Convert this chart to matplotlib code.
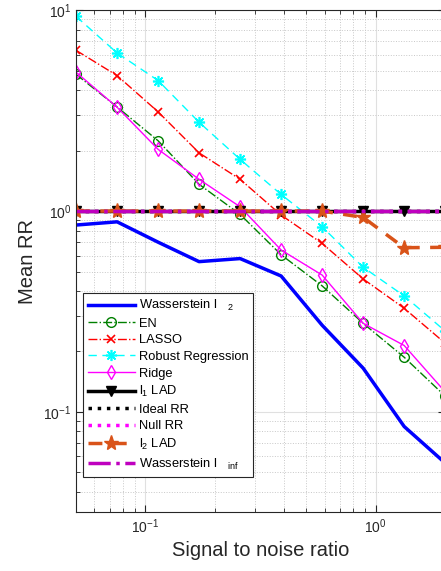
import matplotlib.pyplot as plt

plt.rcParams['font.family'] = ['Liberation Sans', 'DejaVu Sans']
plt.rcParams['mathtext.fontset'] = 'custom'
plt.rcParams['mathtext.rm'] = 'Liberation Sans'
plt.rcParams['mathtext.it'] = 'Liberation Sans'

snr = [0.05, 0.0754, 0.1136, 0.1711, 0.2579, 0.3886, 0.5857, 0.8826, 1.3301, 2.0]

wass_l2 = [0.852, 0.884, 0.70, 0.56, 0.58, 0.475, 0.27, 0.165, 0.0845, 0.0557]
en = [4.8, 3.3, 2.24, 1.36, 0.963, 0.606, 0.424, 0.276, 0.187, 0.12]
lasso = [6.32, 4.73, 3.12, 1.95, 1.44, 0.955, 0.69, 0.459, 0.328, 0.22]
robust = [9.33, 6.13, 4.47, 2.77, 1.81, 1.21, 0.835, 0.525, 0.378, 0.253]
ridge = [4.92, 3.29, 2.03, 1.44, 1.05, 0.64, 0.48, 0.276, 0.214, 0.126]
l1_lad = [1, 1, 1, 1, 1, 1, 1, 1, 1, 1]
ideal_rr = [1, 1, 1, 1, 1, 1, 1, 1, 1, 1]
null_rr = [1, 1, 1, 1, 1, 1, 1, 1, 1, 1]
l2_lad = [1, 1, 1, 1, 1, 1, 1, 0.93, 0.657, 0.66]
wass_inf = [1, 1, 1, 1, 1, 1, 1, 1, 1, 1]

fig = plt.figure(figsize=(4.41, 5.71), dpi=100)
ax = fig.add_axes([76 / 441, 58.7 / 571, 369 / 441, 502 / 571])

ax.plot(snr, wass_l2, color='#0000ff', lw=2.5, label='Wasserstein l   $_2$')
ax.plot(snr, en, color='#008000', ls='-.', lw=1, marker='o', mfc='none', ms=7,
        label='EN')
ax.plot(snr, lasso, color='#ff0000', ls='-.', lw=1, marker='x', ms=6, mew=1.2,
        label='LASSO')
ax.plot(snr, robust, color='#00ffff', ls='--', dashes=(6, 4), lw=1,
        marker=(8, 2, 0), ms=8, mew=1.2, label='Robust Regression')
ax.plot(snr, ridge, color='#ff00ff', ls='-', lw=1, marker='d', mfc='none', ms=7,
        label='Ridge')
ax.plot(snr, l1_lad, color='black', lw=2.5, marker='v', ms=7,
        label='l$_1$ LAD')
ax.plot(snr, ideal_rr, color='black', ls=':', lw=2.5, label='Ideal RR')
ax.plot(snr, null_rr, color='#ff00ff', ls=':', lw=2.5, label='Null RR')
ax.plot(snr, l2_lad, color='#D95319', ls='--', dashes=(4, 3), lw=2.5, marker='*',
        ms=11, label='l$_2$ LAD')
ax.plot(snr, wass_inf, color='#BF00BF', ls='-.', lw=2.5,
        label='Wasserstein l   $_{\\mathrm{inf}}$')

ax.set_xscale('log')
ax.set_yscale('log')
ax.set_xlim(0.05, 2.0)
ax.set_ylim(0.0316, 10)

ax.grid(True, which='major', color='#e0e0e0', lw=0.8, ls='-')
ax.grid(True, which='minor', color='#c8c8c8', lw=0.7, ls=':')
ax.tick_params(which='both', direction='in', top=True, right=True,
               labelsize=10, colors='#262626')
ax.tick_params(which='major', length=5)
ax.tick_params(which='minor', length=3)
for s in ax.spines.values():
    s.set_color('#262626')
    s.set_linewidth(0.8)

ax.set_xlabel('Signal to noise ratio', fontsize=14.5, color='#262626')
ax.set_ylabel('Mean RR', fontsize=14.5, color='#262626')

leg = ax.legend(loc='upper left', bbox_to_anchor=(83 / 441, 1 - 293 / 571),
                bbox_transform=fig.transFigure, borderaxespad=0, fontsize=9.3,
                handlelength=3.6, handletextpad=0.3, labelspacing=0.35,
                fancybox=False, framealpha=1, edgecolor='#262626',
                borderpad=0.4)
leg.get_frame().set_linewidth(0.8)

fig.savefig('out.png', dpi=100)
